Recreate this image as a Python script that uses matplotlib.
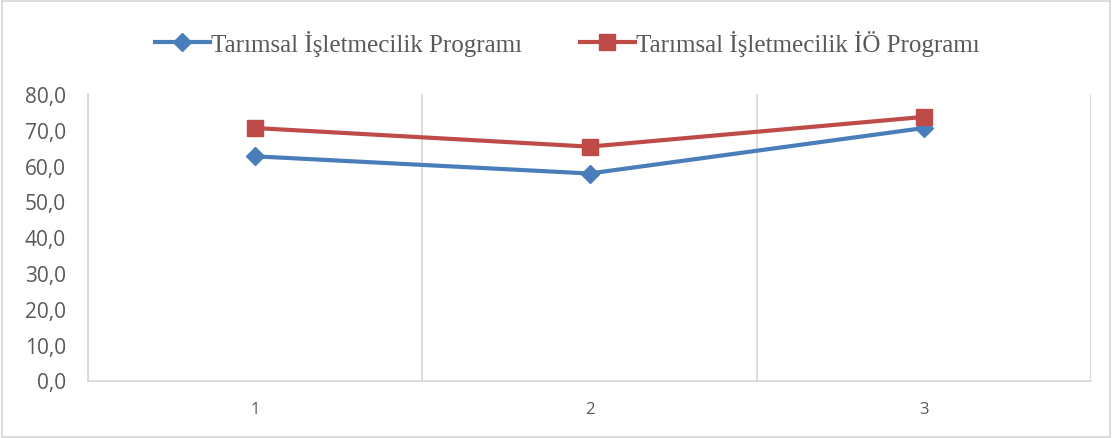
import numpy as np
import matplotlib
matplotlib.use('Agg')
import matplotlib.pyplot as plt
from matplotlib.patches import Rectangle

# Data
categories = ['1', '2', '3']
regular = [62.6, 57.8, 70.5]      # Tarımsal İşletmecilik Programı
evening = [70.5, 65.3, 73.6]      # Tarımsal İşletmecilik İÖ Programı
series_names = ['Tarımsal İşletmecilik Programı', 'Tarımsal İşletmecilik İÖ Programı']
yticks = [0, 10, 20, 30, 40, 50, 60, 70, 80]

blue = '#4a7ebb'
red = '#be4b48'
grid_col = '#d9d9d9'
text_col = '#595959'

fig = plt.figure(figsize=(11.12, 4.39), dpi=100)
ax = fig.add_axes([88 / 1112, 1 - 381.5 / 439, (1091 - 88) / 1112, (381.5 - 95) / 439])

x = np.arange(1, len(categories) + 1)
ax.plot(x, regular, color=blue, lw=3, marker='D', ms=9, label=series_names[0], zorder=3)
ax.plot(x, evening, color=red, lw=3, marker='s', ms=11, label=series_names[1], zorder=3)

ax.set_xlim(0.5, len(categories) + 0.5)
ax.set_ylim(0, 80)
ax.set_xticks(x)
ax.set_xticklabels(categories)
ax.set_yticks(yticks)
ax.set_yticklabels([f'{v:.1f}'.replace('.', ',') for v in yticks])

# vertical gridlines between categories
ax.set_xticks(np.arange(0.5, len(categories) + 1, 1), minor=True)
ax.grid(True, which='minor', axis='x', color=grid_col, lw=1.3)
ax.tick_params(which='both', length=0)
ax.tick_params(axis='y', labelsize=15, labelcolor=text_col, pad=16)
ax.tick_params(axis='x', labelsize=12, labelcolor=text_col, pad=15)
for lab in ax.get_yticklabels():
    lab.set_family('Open Sans')
for lab in ax.get_xticklabels():
    lab.set_family('Open Sans')

for side in ['top', 'right']:
    ax.spines[side].set_visible(False)
for side in ['left', 'bottom']:
    ax.spines[side].set_color(grid_col)
    ax.spines[side].set_linewidth(1.3)

leg = fig.legend(loc='center', bbox_to_anchor=(0.51, 1 - 44 / 439), ncol=2, frameon=False,
                 prop={'family': 'Liberation Serif', 'size': 18}, handlelength=2.2,
                 handletextpad=0.05, columnspacing=2.3)
for t in leg.get_texts():
    t.set_color(text_col)

# outer chart border
fig.patches.append(Rectangle((2 / 1112, 1 / 439), 1108 / 1112, 436 / 439, transform=fig.transFigure,
                             fill=False, edgecolor=grid_col, lw=1.3))

plt.savefig('out.png', dpi=100)
